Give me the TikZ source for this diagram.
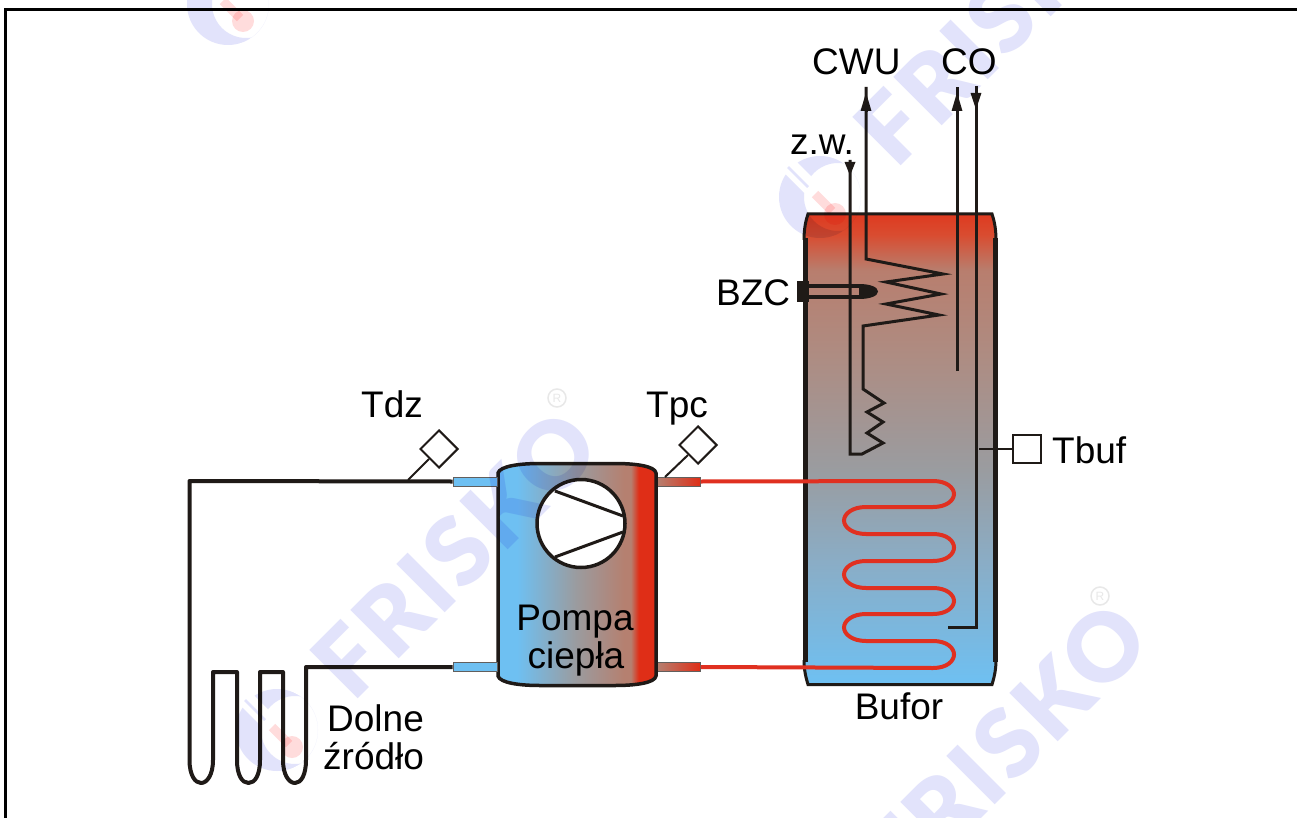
\documentclass[tikz,border=0pt]{standalone}
\usepackage{fontspec}
\setmainfont{Liberation Sans}
\newfontfamily\wmfont[LetterSpace=4]{Lato Black}
\usetikzlibrary{shapes.geometric,arrows.meta}
\definecolor{ink}{HTML}{1F1A17}
\definecolor{coilred}{HTML}{E03020}
\definecolor{wmblue}{HTML}{E2E3FB}
\definecolor{wmpink}{HTML}{FFDCDC}
\definecolor{wmgrey}{HTML}{E8E8E8}
\definecolor{stubblue}{HTML}{6EC0F2}
\definecolor{stubred}{HTML}{DF2E17}
\definecolor{stubbrown}{HTML}{B58070}
\definecolor{gA}{HTML}{8AADC6}
\definecolor{gB}{HTML}{9A9CA0}
\definecolor{gC}{HTML}{AE8C82}
\definecolor{gD}{HTML}{B87E6E}
\definecolor{gE}{HTML}{D94C30}
\definecolor{gF}{HTML}{DE3A20}
\pgfdeclareverticalshading{bufgrad}{100bp}{
 color(0bp)=(stubblue); color(25bp)=(stubblue);
 color(38bp)=(gA);
 color(47.8bp)=(gB);
 color(60bp)=(gC);
 color(69bp)=(gD);
 color(72.8bp)=(gE);
 color(75bp)=(gF); color(100bp)=(gF)}
\pgfdeclarehorizontalshading{pumpgrad}{100bp}{
 color(0bp)=(stubblue); color(25bp)=(stubblue); color(31bp)=(stubblue);
 color(49.4bp)=(gB);
 color(65bp)=(stubbrown); color(67bp)=(stubbrown);
 color(69.5bp)=(stubred); color(75bp)=(stubred); color(100bp)=(stubred)}
\tikzset{
 lbl/.style={anchor=base west,inner sep=0pt,font=\fontsize{37}{37}\selectfont,text=black},
 pipeblack/.style={draw=ink,line width=4pt,line join=round},
 thinpipe/.style={draw=ink,line width=3pt,line join=miter},
 coil/.style={draw=coilred,line width=4pt},
 sensor/.style={draw=ink,fill=white,line width=2pt,inner sep=0pt},
 stem/.style={draw=ink,line width=2pt},
 tipup/.style={-{Triangle[length=19pt,width=10pt]},draw=ink,fill=ink,line width=3pt},
 stubb/.style={draw=ink!70,line width=1pt,fill=stubblue,minimum width=44pt,minimum height=9pt,inner sep=0pt},
 stubr/.style={draw=ink!70,line width=1pt,left color=stubbrown,right color=stubred,minimum width=43pt,minimum height=9pt,inner sep=0pt},
 wmtext/.style={font=\fontsize{94}{94}\wmfont,text=wmblue,rotate=45,inner sep=0pt},
}
\newcommand{\wmlogo}[3]{%
 \begin{scope}[shift={(#2,#3)},blend mode=multiply]
  \begin{scope}[even odd rule]
   \clip (-60,-60) rectangle (60,60) (-43,-31) -- (-31,-43) -- (-2,-14) -- (-14,-2) -- cycle;
   \clip (0,0) circle[radius=41];
   \fill[wmblue] (0,0) circle[radius=41] (18,0) circle[radius=34];
  \end{scope}
  \draw[wmblue,line width=2.5pt] (-32,-30) -- (-12,-10);
  \draw[wmpink,line width=9pt] (-5,-3) -- (12,14);
  \fill[wmpink] (15,17) circle[radius=11];
  \node[wmtext] (#1) at (178,-176) {FRISKO};
 \end{scope}}
\newcommand{\wmreg}[3]{%
 \begin{scope}[blend mode=multiply]
 \node[draw=wmgrey,line width=1.5pt,circle,minimum size=18pt,inner sep=0pt,text=wmgrey,font=\fontsize{12}{12}\selectfont] (#1) at (#2,#3) {R};
 \end{scope}}
\begin{document}
\begin{tikzpicture}[x=1pt,y=-1pt]
\useasboundingbox (0,0) rectangle (1297,818);
\fill[white] (0,0) rectangle (1297,818);
% frame
\draw[black,line width=3pt] (5.5,818) -- (5.5,9.5) -- (1297,9.5);
% buffer
\path[shade,shading=bufgrad] (804,240) .. controls (804,228) and (806,220) .. (808,214) -- (992,214) .. controls (994,220) and (996,228) .. (996,240) -- (996,660) .. controls (996,670) and (994,678) .. (992,684.5) -- (808,684.5) .. controls (806,678) and (804,670) .. (804,660) -- cycle;
\draw[ink,line width=3pt] (804,240) .. controls (804,228) and (806,220) .. (808,214) -- (992,214) .. controls (994,220) and (996,228) .. (996,240);
\draw[ink,line width=3pt] (996,660) .. controls (996,670) and (994,678) .. (992,684.5) -- (808,684.5) .. controls (806,678) and (804,670) .. (804,660);
\draw[ink,line width=5pt] (805,238) -- (805,662);
\draw[ink,line width=5pt] (995,238) -- (995,662);
% red coil
\node[stubr] (stubRT) at (678.5,481.5) {};
\node[stubr] (stubRB) at (678.5,667) {};
\draw[coil] (stubRT.east) -- (933,481) .. controls (947,481) and (954,488) .. (954,494) .. controls (954,500) and (947,507) .. (933,507) -- (866,507)
 .. controls (852,507) and (844,514) .. (844,520.5) .. controls (844,527) and (852,534) .. (866,534) -- (933,534)
 .. controls (947,534) and (954,541) .. (954,547.5) .. controls (954,554) and (947,561) .. (933,561) -- (866,561)
 .. controls (852,561) and (844,568) .. (844,574.5) .. controls (844,581) and (852,588) .. (866,588) -- (933,588)
 .. controls (947,588) and (954,595) .. (954,601) .. controls (954,607) and (947,614) .. (933,614) -- (866,614)
 .. controls (852,614) and (844,621) .. (844,627.5) .. controls (844,634) and (852,641) .. (866,641) -- (933,641)
 .. controls (947,641) and (954,648) .. (954,654.5) .. controls (954,661) and (947,668) .. (933,668) -- (stubRB.east);
% hot-water coil with cold feed
\coordinate (zwTop) at (850,160);
\coordinate (zwBase) at (850,162);
\coordinate (zwTip) at (850,176);
\coordinate (cwuTop) at (866,87);
\coordinate (cwuBase) at (866,112);
\coordinate (cwuTip) at (866,92);
\draw[thinpipe] (zwTop) -- (850,454) -- (862,454) -- (883,443) -- (867,433) -- (883,422) -- (867,412) -- (884,403) -- (863,389) -- (863,326)
 -- (939,315) -- (886,304) -- (941,294) -- (886,282) -- (943,274) -- (866,259) -- (cwuTop);
\draw[tipup] (cwuBase) -- (cwuTip);
\draw[-{Triangle[length=14pt,width=10pt]},draw=ink,fill=ink,line width=3pt] (zwBase) -- (zwTip);
% CO lines
\coordinate (coUpTop) at (957,87);
\coordinate (coUpBase) at (957,112);
\coordinate (coUpTip) at (957,92);
\coordinate (coUpEnd) at (957,371);
\draw[thinpipe] (coUpEnd) -- (coUpTop);
\draw[tipup] (coUpBase) -- (coUpTip);
\coordinate (coDnTop) at (976,86);
\coordinate (coDnBase) at (976,93);
\coordinate (coDnTip) at (976,110);
\coordinate (coDnEnd) at (948,627);
\draw[thinpipe] (coDnTop) -- (976,627) -- (coDnEnd);
\draw[-{Triangle[length=17pt,width=10pt]},draw=ink,fill=ink,line width=3pt] (coDnBase) -- (coDnTip);
% BZC
\node[fill=ink,minimum width=12pt,minimum height=21pt,inner sep=0pt] (bzcBlock) at (803,291.5) {};
\draw[ink,line width=3.5pt] (bzcBlock.east |- 0,286) -- (859,286);
\draw[ink,line width=3.5pt] (bzcBlock.east |- 0,297) -- (859,297);
\fill[ink] (859,284) .. controls (870,284) and (878,287) .. (878,291.5) .. controls (878,296) and (870,299) .. (859,299) -- cycle;
% Tbuf
\coordinate (tbufEnd) at (979,449);
\node[sensor,rectangle,minimum size=28pt] (tbuf) at (1027,449) {};
\draw[stem] (tbufEnd) -- (tbuf.west);
% pump
\path[shade,shading=pumpgrad] (498,473) .. controls (500,466) and (520,463.5) .. (540,463.5) -- (615,463.5) .. controls (635,463.5) and (655,466) .. (656,473) -- (656,676) .. controls (655,683) and (635,685.5) .. (615,685.5) -- (540,685.5) .. controls (520,685.5) and (500,683) .. (498,676) -- cycle;
\draw[ink,line width=3.5pt,line join=round] (498,473) .. controls (500,466) and (520,463.5) .. (540,463.5) -- (615,463.5) .. controls (635,463.5) and (655,466) .. (656,473) -- (656,676) .. controls (655,683) and (635,685.5) .. (615,685.5) -- (540,685.5) .. controls (520,685.5) and (500,683) .. (498,676) -- cycle;
\node[draw=ink,fill=white,line width=3.5pt,circle,minimum size=88pt,inner sep=0pt] (comp) at (581,523.5) {};
\draw[ink,line width=3pt] (555,491) -- (623,516);
\draw[ink,line width=3pt] (555,557) -- (623,532);
% blue stubs
\node[stubb] (stubLT) at (475,481.5) {};
\node[stubb] (stubLB) at (475,667) {};
% ground loop
\draw[pipeblack] (stubLT.west) -- (189.5,481) -- (189.5,760) .. controls (189.5,775) and (195,783) .. (201,783) .. controls (207,783) and (213,775) .. (213,760) -- (213,672) -- (237,672) -- (237,760)
 .. controls (237,775) and (242,783) .. (248.5,783) .. controls (255,783) and (260,775) .. (260,760) -- (260,672) -- (283,672) -- (283,760)
 .. controls (283,775) and (289,783) .. (295,783) .. controls (301,783) and (306,775) .. (306,760) -- (306,667) -- (stubLB.west);
% sensors on the pipes
\coordinate (tdzPipe) at (408,480);
\node[sensor,diamond,minimum size=38pt] (tdz) at (439,449) {};
\draw[stem] (tdzPipe) -- (tdz.south west);
\coordinate (tpcPipe) at (665,477);
\node[sensor,diamond,minimum size=38pt] (tpc) at (698,445) {};
\draw[stem] (tpcPipe) -- (tpc.south west);
% labels
\node[lbl] (lCWU) at (812,75) {CWU};
\node[lbl] (lCO) at (941,75) {CO};
\node[lbl] (lZW) at (790,155) {z.w.};
\node[lbl] (lBZC) at (716,305) {BZC};
\node[lbl] (lTdz) at (361,417) {Tdz};
\node[lbl] (lTpc) at (646,417) {Tpc};
\node[lbl] (lTbuf) at (1052,463) {Tbuf};
\node[lbl,anchor=base] (lPompa) at (575,630) {Pompa};
\node[lbl,anchor=base] (lCiepla) at (576,668) {ciepła};
\node[lbl] (lDolne) at (327,731) {Dolne};
\node[lbl] (lZrodlo) at (323,769) {źródło};
\node[lbl,anchor=base] (lBufor) at (899,719) {Bufor};
% watermark
\wmlogo{wmA}{277}{730}
\wmlogo{wmB}{820}{197}
\wmlogo{wmC}{827}{922}
\wmlogo{wmD}{228}{4}
\wmreg{regA}{557}{398}
\wmreg{regB}{1100}{596}
\end{tikzpicture}
\end{document}
